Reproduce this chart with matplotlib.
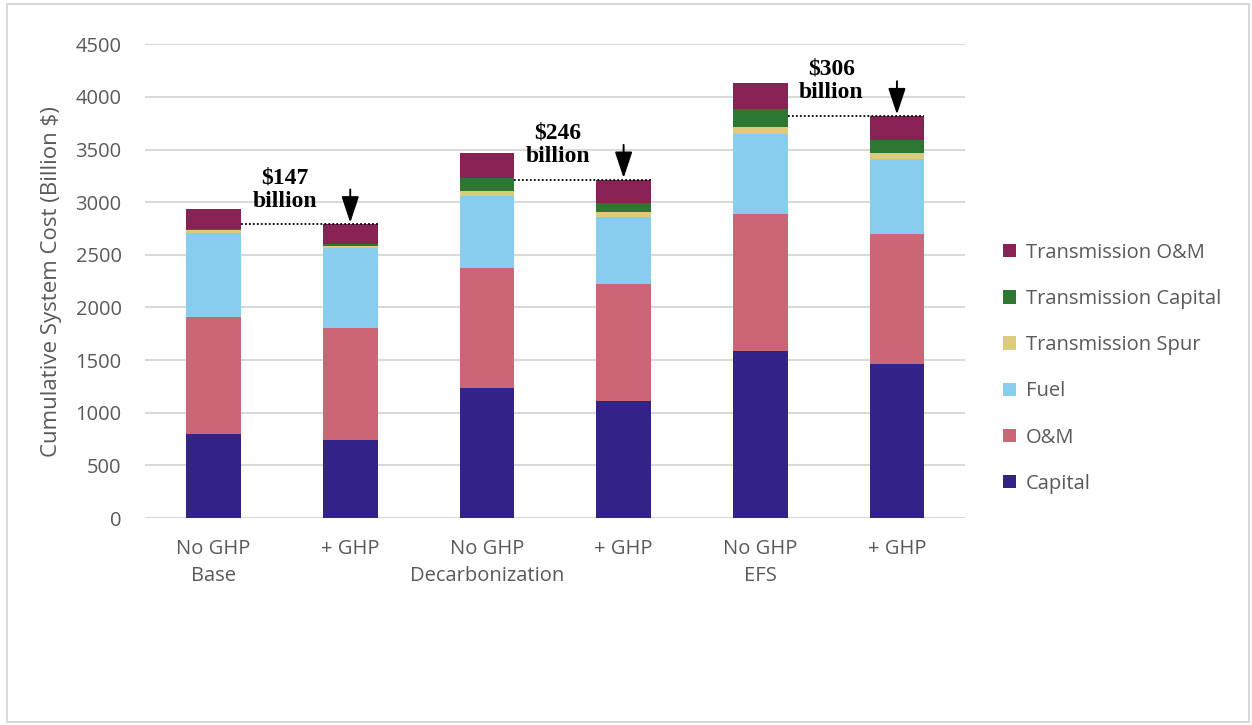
import matplotlib
matplotlib.use("Agg")
import matplotlib.pyplot as plt
from matplotlib.patches import Rectangle, Patch
import numpy as np

# ---- data ----
tick_labels = ["No GHP\nBase", "+ GHP", "No GHP\nDecarbonization", "+ GHP", "No GHP\nEFS", "+ GHP"]
series_names = ["Capital", "O&M", "Fuel", "Transmission Spur", "Transmission Capital", "Transmission O&M"]
capital = [795, 737, 1234, 1107, 1588, 1464]
om = [1110, 1063, 1145, 1111, 1300, 1234]
fuel = [798, 762, 681, 645, 759, 712]
spur = [28, 26, 50, 48, 64, 57]
tx_capital = [18, 12, 120, 85, 173, 123]
tx_om = [190, 190, 234, 218, 247, 228]
savings_labels = ["$147\nbillion", "$246\nbillion", "$306\nbillion"]

colors = ["#332288", "#CC6677", "#88CCEE", "#DDCC77", "#2E7733", "#882255"]

plt.rcParams['font.family'] = ['Open Sans', 'DejaVu Sans']

fig = plt.figure(figsize=(12.52, 7.25), dpi=100)
ax = fig.add_axes([0.116, 0.2855, 0.655, 0.6535])

series = [capital, om, fuel, spur, tx_capital, tx_om]
x = np.arange(len(tick_labels))
width = 0.4
bottom = np.zeros(len(x))
for vals, name, c in zip(series, series_names, colors):
    ax.bar(x, vals, width, bottom=bottom, color=c, label=name, zorder=3)
    bottom = bottom + np.array(vals)
totals = bottom

ax.set_xlim(-0.5, len(x) - 0.5)
ax.set_ylim(0, 4500)
ax.set_yticks(np.arange(0, 4501, 500))
ax.yaxis.grid(True, color="#d9d9d9", linewidth=1.5, zorder=0)
ax.set_axisbelow(True)
for s in ax.spines.values():
    s.set_visible(False)
ax.tick_params(axis='both', length=0, colors="#595959", labelsize=14.5)
ax.tick_params(axis='y', pad=17)
ax.tick_params(axis='x', pad=15)
ax.set_xticks(x)
ax.set_xticklabels(tick_labels, linespacing=1.45)
ax.set_ylabel("Cumulative System Cost (Billion $)", color="#595959", fontsize=16, labelpad=10)

# savings annotations
for k, lab in enumerate(savings_labels):
    i0 = 2 * k
    i1 = 2 * k + 1
    top1 = totals[i1]
    ax.plot([i0 + width / 2, i1 + width / 2], [top1, top1], linestyle=(0, (1, 1.2)),
            color="black", linewidth=1.3, zorder=4)
    ax.annotate("", xy=(i1, top1 + 15), xytext=(i1, top1 + 330),
                arrowprops=dict(arrowstyle="-|>,head_length=0.9,head_width=0.3",
                                color="black", lw=1.4, mutation_scale=18,
                                shrinkA=0, shrinkB=0), zorder=5)
    ax.text((i0 + i1) / 2 + 0.02, top1 + 120, lab, ha="center", va="bottom",
            fontsize=17, fontweight="bold", family="Liberation Serif",
            linespacing=1.15, zorder=5)

handles = [Patch(facecolor=c, edgecolor='none') for c in colors][::-1]
fig.legend(handles, series_names[::-1], loc="center left",
           bbox_to_anchor=(0.801, 0.492), frameon=False, fontsize=14.5,
           labelcolor="#595959", handlelength=0.65, handleheight=0.65,
           handletextpad=0.5, labelspacing=1.3, borderpad=0, borderaxespad=0)

fig.patches.append(Rectangle((0.0056, 0.004), 0.992, 0.991, transform=fig.transFigure,
                             fill=False, edgecolor="#d9d9d9", linewidth=1.5))

fig.savefig("out.png", dpi=100)
